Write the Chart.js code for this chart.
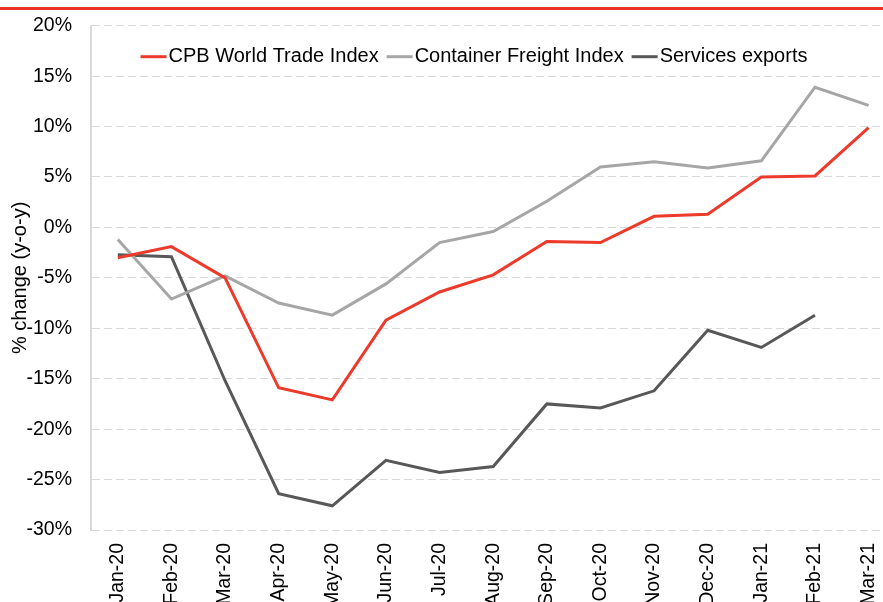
<!DOCTYPE html>
<html>
<head>
<meta charset="utf-8">
<script src="https://cdn.jsdelivr.net/npm/chart.js@4/dist/chart.umd.min.js"></script>
<style>
  html, body { margin: 0; padding: 0; overflow: hidden; background: #fff; width: 883px; height: 602px; }
  #wrap { position: absolute; left: 0; top: -5px; width: 905px; height: 640px; }
  #topline { position: absolute; left: 0; top: 7px; width: 883px; height: 3px; background: #e8322a; z-index: 2; }
</style>
</head>
<body>
<div id="wrap"><canvas id="c" width="905" height="640"></canvas></div>
<div id="topline"></div>
<script>
const categories = ["Jan-20","Feb-20","Mar-20","Apr-20","May-20","Jun-20","Jul-20","Aug-20","Sep-20","Oct-20","Nov-20","Dec-20","Jan-21","Feb-21","Mar-21"];
const cpbWorldTrade = [-3.0,-1.9,-5.0,-15.9,-17.1,-9.2,-6.4,-4.7,-1.4,-1.5,1.1,1.3,5.0,5.1,9.9];
const containerFreight = [-1.2,-7.1,-4.8,-7.5,-8.7,-5.6,-1.5,-0.4,2.6,6.0,6.5,5.9,6.6,13.9,12.1];
const servicesExports = [-2.7,-2.9,-15.2,-26.4,-27.6,-23.1,-24.3,-23.7,-17.5,-17.9,-16.2,-10.2,-11.9,-8.7,null];
const seriesNames = ["CPB World Trade Index","Container Freight Index","Services exports"];
const seriesColors = ["#ec3a2b","#a6a6a6","#585858"];
const yTickMin = -30, yTickMax = 20, yTickStep = 5;

const FONT = "'Liberation Sans', Arial, sans-serif";

const insideLegend = {
  id: 'insideLegend',
  afterDatasetsDraw(chart) {
    const ctx = chart.ctx;
    ctx.save();
    ctx.font = "20px " + FONT;
    ctx.textBaseline = 'middle';
    const sample = 26, gapText = 2, gapItem = 8;
    const items = chart.data.datasets.map(d => ({label: d.label, color: d.borderColor, w: ctx.measureText(d.label).width}));
    let total = 0;
    items.forEach((it, i) => { total += sample + gapText + it.w + (i < items.length - 1 ? gapItem : 0); });
    const cx = chart.chartArea.left + 383;
    let x = cx - total / 2;
    const y = chart.chartArea.top + 31;
    items.forEach(it => {
      ctx.strokeStyle = it.color;
      ctx.lineWidth = 3;
      ctx.beginPath();
      ctx.moveTo(x, y);
      ctx.lineTo(x + sample, y);
      ctx.stroke();
      x += sample + gapText;
      ctx.fillStyle = '#000';
      ctx.fillText(it.label, x, y);
      x += it.w + gapItem;
    });
    ctx.restore();
  }
};

const ds = [cpbWorldTrade, containerFreight, servicesExports].map((vals, i) => ({
  label: seriesNames[i],
  data: vals,
  borderColor: seriesColors[i],
  backgroundColor: seriesColors[i],
  borderWidth: 3,
  pointRadius: 0,
  tension: 0,
  spanGaps: false
}));

new Chart(document.getElementById('c'), {
  type: 'line',
  data: { labels: categories, datasets: ds },
  plugins: [insideLegend],
  options: {
    responsive: false,
    animation: false,
    devicePixelRatio: 1,
    layout: { padding: { top: 20, right: 0, left: 0, bottom: 0 } },
    plugins: { legend: { display: false }, tooltip: { enabled: false } },
    scales: {
      x: {
        offset: true,
        grid: { display: false, drawTicks: false },
        border: { display: false },
        ticks: {
          color: '#000',
          font: { family: FONT, size: 19.5 },
          maxRotation: 90, minRotation: 90,
          padding: 13,
          autoSkip: false
        },
        afterFit(scale) { scale.height = 105; }
      },
      y: {
        min: yTickMin, max: yTickMax,
        grid: { color: '#d9d9d9', lineWidth: 1, drawTicks: false },
        border: { display: true, color: '#d9d9d9', width: 2, dash: [8, 4] },
        ticks: {
          stepSize: yTickStep,
          color: '#000',
          font: { family: FONT, size: 19.5 },
          padding: 19,
          callback: v => v + '%'
        },
        title: {
          display: true,
          text: '% change (y-o-y)',
          color: '#000',
          font: { family: FONT, size: 20 },
          padding: { top: 8, bottom: 0 }
        },
        afterFit(scale) { scale.width = 91; }
      }
    }
  }
});
</script>
</body>
</html>
